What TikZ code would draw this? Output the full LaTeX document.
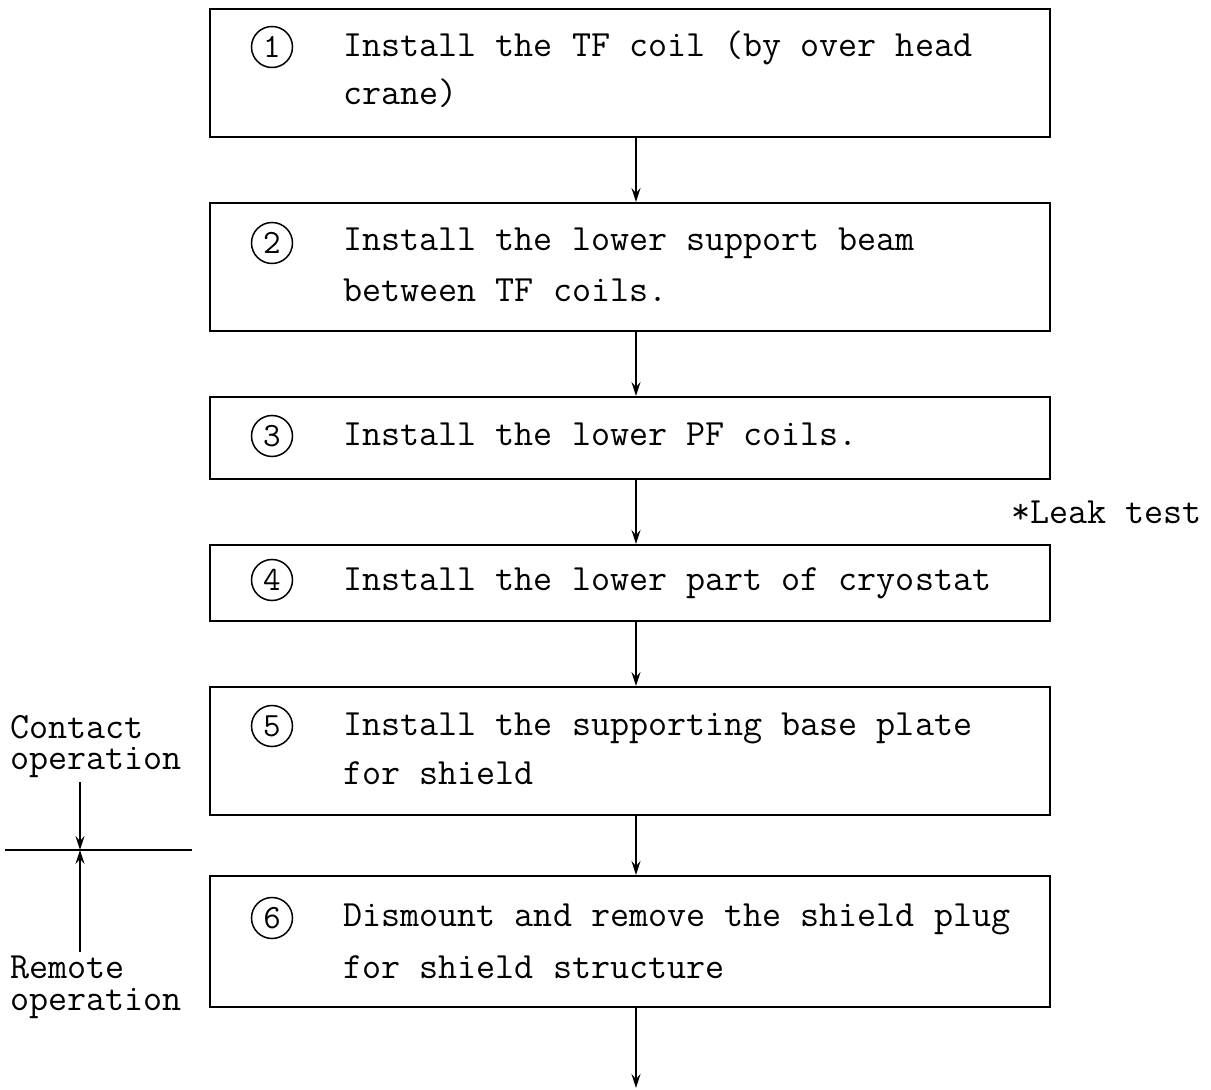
\documentclass[tikz,border=0pt]{standalone}
\usepackage{fontspec}
\usetikzlibrary{arrows.meta}
\begin{document}
\begin{tikzpicture}[x=0.5pt,y=-0.5pt,
  stepbox/.style={draw,line width=1pt,inner sep=0pt,minimum width=420pt},
  numc/.style={draw,circle,line width=0.75pt,inner sep=0pt,minimum size=20.5pt,font=\ttfamily\fontsize{17pt}{17pt}\selectfont},
  txt/.style={anchor=base west,inner sep=0pt,font=\ttfamily\fontsize{18.5pt}{24pt}\selectfont},
  side/.style={anchor=base west,inner sep=0pt,align=left,font=\ttfamily\fontsize{18.5pt}{16pt}\selectfont},
  flow/.style={line width=1pt,-{Stealth[length=7pt,width=4.5pt,inset=2.5pt]}}]
\useasboundingbox (0,0) rectangle (1211,1090);
% boxes
\node[stepbox,minimum height=64pt] (b1) at (630,73) {};
\node[stepbox,minimum height=64pt] (b2) at (630,267) {};
\node[stepbox,minimum height=41pt] (b3) at (630,438) {};
\node[stepbox,minimum height=38pt] (b4) at (630,583) {};
\node[stepbox,minimum height=64pt] (b5) at (630,751) {};
\node[stepbox,minimum height=65.5pt] (b6) at (630,941.5) {};
% circled numbers
\node[numc] (n1) at (272,47) {1};
\node[numc] (n2) at (272,243) {2};
\node[numc] (n3) at (272,436) {3};
\node[numc] (n4) at (272,580) {4};
\node[numc] (n5) at (272,726) {5};
\node[numc] (n6) at (272,918) {6};
% texts
\node[txt] (t1a) at (343,57) {Install the TF coil (by over head};
\node[txt] (t1b) at (343,105) {crane)};
\node[txt] (t2a) at (343,251) {Install the lower support beam};
\node[txt] (t2b) at (343,302) {between TF coils.};
\node[txt] (t3a) at (343,446) {Install the lower PF coils.};
\node[txt] (t4a) at (343,591) {Install the lower part of cryostat};
\node[txt] (t5a) at (343,736) {Install the supporting base plate};
\node[txt] (t5b) at (343,784) {for shield};
\node[txt] (t6a) at (343,927) {Dismount and remove the shield plug};
\node[txt] (t6b) at (343,978) {for shield structure};
\node[txt,anchor=base east] (leak) at (1202,524) {*Leak test};
% connectors
\coordinate (ax) at (636,0);
\coordinate (endp) at (636,1088);
\draw[flow] (b1.south -| ax) -- (b2.north -| ax);
\draw[flow] (b2.south -| ax) -- (b3.north -| ax);
\draw[flow] (b3.south -| ax) -- (b4.north -| ax);
\draw[flow] (b4.south -| ax) -- (b5.north -| ax);
\draw[flow] (b5.south -| ax) -- (b6.north -| ax);
\draw[flow] (b6.south -| ax) -- (endp);
% left side: contact / remote (base anchor = last line)
\node[side] (lc) at (10,770) {Contact\\operation};
\node[side] (lr) at (10,1010) {Remote\\operation};
\coordinate (hl) at (5,850);
\coordinate (hr) at (192,850);
\coordinate (cx) at (80,850);
\coordinate (ctop) at (80,782);
\coordinate (cbot) at (80,952);
\draw[line width=1pt] (hl) -- (hr);
\draw[flow] (ctop) -- (cx);
\draw[flow] (cbot) -- (cx);
\end{tikzpicture}
\end{document}
